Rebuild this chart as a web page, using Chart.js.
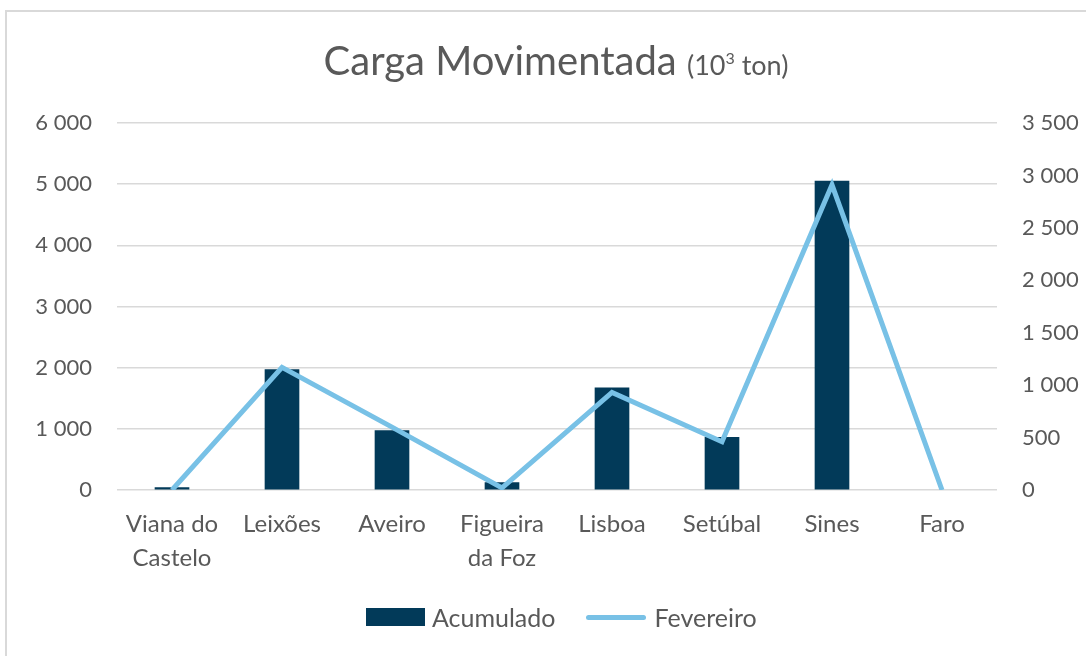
<!DOCTYPE html>
<html>
<head>
<meta charset="utf-8">
<script src="https://cdn.jsdelivr.net/npm/chart.js@4"></script>
<style>
    html, body { margin: 0; padding: 0; background: #fff; overflow: hidden; }
    body { width: 1086px; height: 656px; position: relative; font-family: Lato, 'Open Sans', sans-serif; color: #595959; }
    #frame { position: absolute; left: 5px; top: 10px; width: 1100px; height: 660px; border: 2px solid #d9d9d9; box-sizing: border-box; }
    #wrap { position: absolute; left: 0; top: 0; width: 1086px; height: 656px; }
    #title { position: absolute; left: 0; width: 1112px; top: 33px; text-align: center; font-size: 40px; line-height: 50px; white-space: nowrap; }
    #title small { font-size: 27px; }
    #title sup { font-size: 16px; vertical-align: 11px; }
    #legend { position: absolute; top: 601px; left: 366px; height: 32px; display: flex; align-items: center; font-size: 25px; white-space: nowrap; }
    .sw-bar { width: 59px; height: 18px; background: #023a59; margin-right: 7px; flex: none; }
    .sw-line { width: 60px; height: 5px; border-radius: 3px; background: #78c1e6; margin: 0 8px 0 31px; flex: none; }
</style>
</head>
<body>
<div id="frame"></div>
<div id="wrap"><canvas id="chart" width="1086" height="656"></canvas></div>
<div id="title">Carga Movimentada <small>(10<sup>3</sup> ton)</small></div>
<div id="legend">
    <div class="sw-bar"></div><span>Acumulado</span>
    <div class="sw-line"></div><span>Fevereiro</span>
</div>
<script>
const ports = [['Viana do', 'Castelo'], 'Leixões', 'Aveiro', ['Figueira', 'da Foz'], 'Lisboa', 'Setúbal', 'Sines', 'Faro'];
const acumulado = [40, 1970, 970, 120, 1670, 860, 5050, null];
const fevereiro = [0, 1170, 600, 20, 930, 460, 2910, 0];

const fmt = (v) => String(v).replace(/\B(?=(\d{3})+(?!\d))/g, ' ');
const tickFont = { family: 'Lato, "Open Sans", sans-serif', size: 22 };

new Chart(document.getElementById('chart'), {
    data: {
        labels: ports,
        datasets: [
            {
                type: 'line',
                label: 'Fevereiro',
                data: fevereiro,
                yAxisID: 'y2',
                borderColor: '#78c1e6',
                borderWidth: 5,
                tension: 0,
                pointRadius: 0,
                order: 0
            },
            {
                type: 'bar',
                label: 'Acumulado',
                data: acumulado,
                yAxisID: 'y',
                backgroundColor: '#023a59',
                barThickness: 34,
                order: 1
            }
        ]
    },
    options: {
        responsive: false,
        animation: false,
        layout: { padding: { top: 123, left: 0, right: 0, bottom: 0 } },
        plugins: { legend: { display: false }, tooltip: { enabled: false }, title: { display: false } },
        scales: {
            x: {
                offset: true,
                grid: { display: false },
                border: { display: false },
                ticks: { color: '#595959', font: { family: tickFont.family, size: 24, lineHeight: 1.42 }, padding: 9, maxRotation: 0, autoSkip: false },
                afterFit: (s) => { s.height = 166; }
            },
            y: {
                position: 'left',
                min: 0, max: 6000,
                ticks: { stepSize: 1000, color: '#595959', font: tickFont, padding: 25, callback: fmt },
                grid: { color: '#d9d9d9', lineWidth: 1.5, drawTicks: false },
                border: { display: false },
                afterFit: (s) => { s.width = 117; }
            },
            y2: {
                position: 'right',
                min: 0, max: 3500,
                ticks: { stepSize: 500, color: '#595959', font: tickFont, padding: 25, callback: fmt },
                grid: { display: false, drawTicks: false },
                border: { display: false },
                afterFit: (s) => { s.width = 89; }
            }
        }
    }
});
</script>
</body>
</html>
